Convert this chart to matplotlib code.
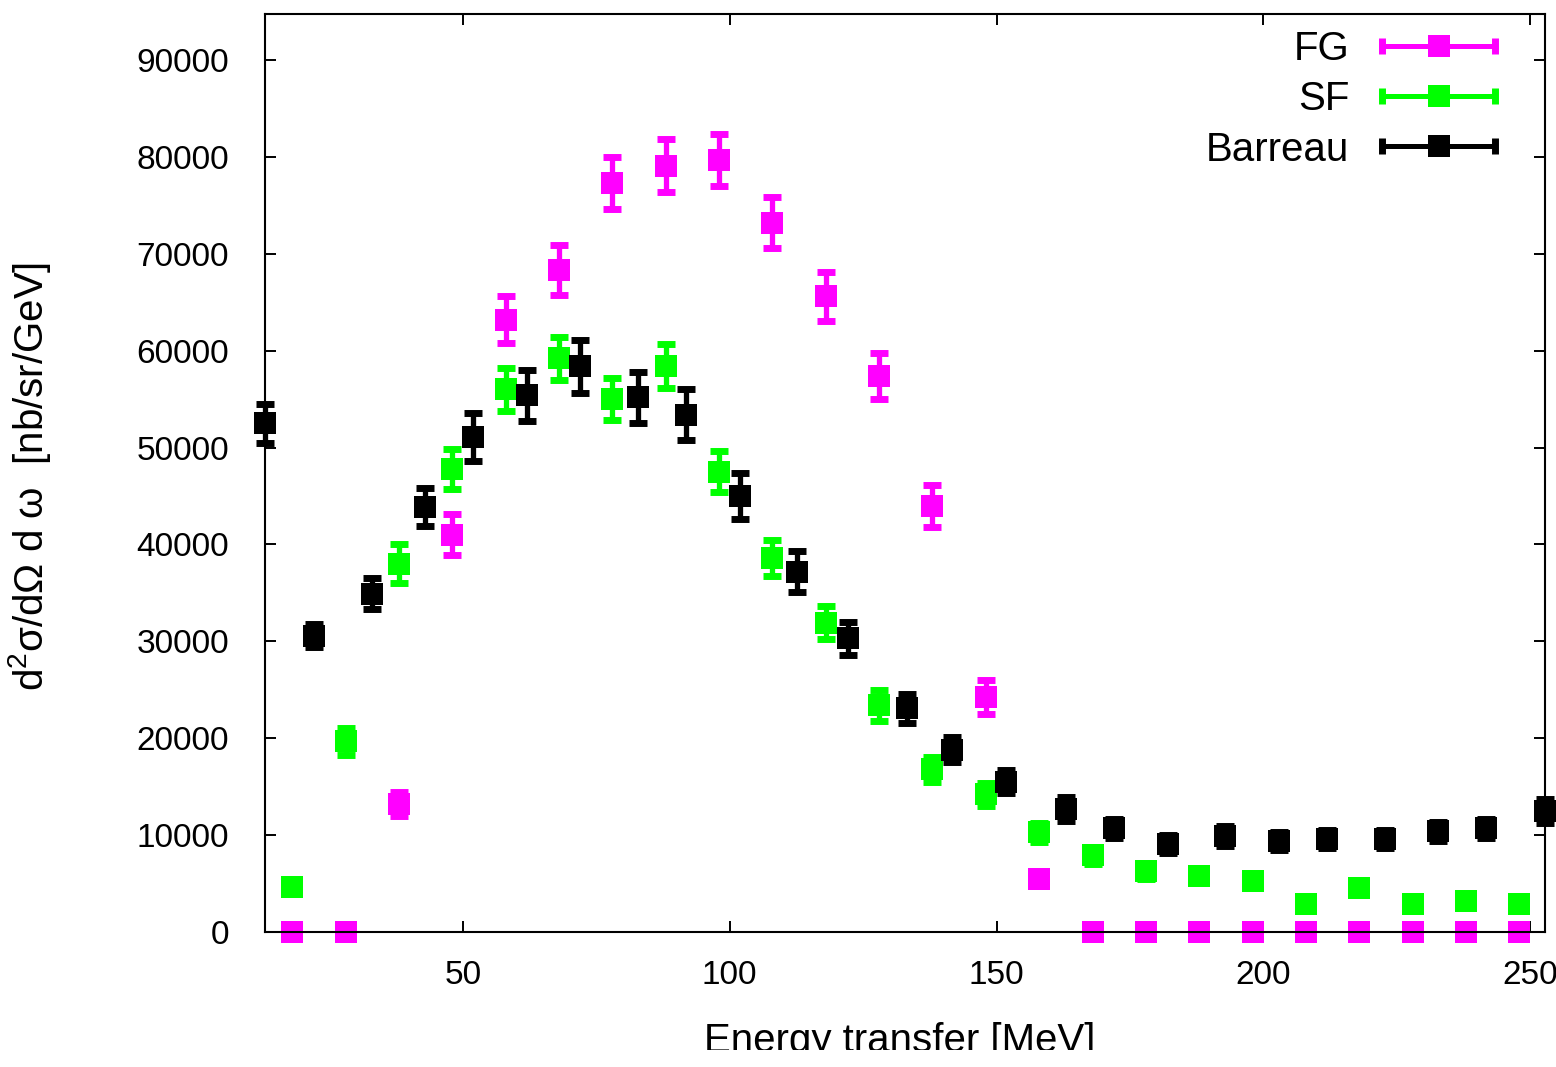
import numpy as np
import matplotlib
matplotlib.use("Agg")
import matplotlib.pyplot as plt
from matplotlib.lines import Line2D
from matplotlib.patches import Rectangle
from matplotlib.legend_handler import HandlerBase

plt.rcParams['font.family'] = ['Liberation Sans', 'DejaVu Sans']
plt.rcParams['mathtext.fontset'] = 'custom'
plt.rcParams['mathtext.rm'] = 'Liberation Sans'

# energy grid of the two models
model_x = [18, 28, 38, 48, 58, 68, 78, 88, 98, 108, 118, 128,
           138, 148, 158, 168, 178, 188, 198, 208, 218, 228, 238, 248]

# Fermi gas
fg_y = [0, 0, 13200, 41000, 63200, 68300, 77300, 79100, 79700, 73200, 65600, 57400,
        44000, 24300, 5500, 0, 0, 0, 0, 0, 0, 0, 0, 0]
fg_err = [0, 0, 1200, 2100, 2450, 2600, 2700, 2700, 2700, 2650, 2500, 2350,
          2150, 1750, 800, 0, 0, 0, 0, 0, 0, 0, 0, 0]

# spectral function
sf_y = [4600, 19700, 38000, 47800, 56000, 59200, 55000, 58400, 47500, 38600, 31900, 23400,
        16800, 14200, 10300, 7900, 6300, 5800, 5300, 2900, 4500, 2900, 3200, 2900]
sf_err = [600, 1400, 2000, 2050, 2250, 2250, 2200, 2250, 2100, 1850, 1700, 1600,
          1300, 1200, 1000, 900, 800, 750, 700, 500, 650, 500, 550, 500]

# Barreau data
bar_x = [12.9, 22.0, 32.9, 42.9, 51.9, 62.0, 71.9, 82.8, 91.8, 101.9, 112.7, 122.2,
         133.3, 141.7, 151.7, 163.1, 172.1, 182.1, 192.9, 202.9, 211.9, 222.8, 232.8, 241.7, 252.8]
bar_y = [52500, 30600, 34900, 43900, 51100, 55400, 58400, 55200, 53400, 45000, 37200, 30300,
         23100, 18800, 15500, 12700, 10700, 9100, 9900, 9400, 9600, 9600, 10400, 10700, 12500]
bar_err = [2000, 1200, 1600, 1950, 2500, 2650, 2750, 2650, 2650, 2350, 2150, 1700,
           1500, 1300, 1200, 1250, 1000, 900, 1000, 950, 950, 950, 1000, 1000, 1200]


class HandlerXErr(HandlerBase):
    # gnuplot style key: horizontal bar with caps and a square in the middle
    def create_artists(self, legend, orig_handle, xdescent, ydescent,
                       width, height, fontsize, trans):
        c = orig_handle.get_color()
        y = height / 2 - ydescent
        x0, x1 = -xdescent + 2, width - xdescent - 2
        bar = Line2D([x0, x1], [y, y], color=c, lw=3.6)
        caps = Line2D([x0, x1], [y, y], ls='none', marker='|', markersize=12, mew=5, color=c)
        sq = Line2D([(x0 + x1) / 2], [y], ls='none', marker='s', markersize=15.8, mew=0, color=c)
        for a in (bar, caps, sq):
            a.set_transform(trans)
        return [bar, caps, sq]


fig = plt.figure(figsize=(15.56, 10.67), dpi=100)
ax = fig.add_axes([265 / 1556, 1 - 932 / 1067, 1280 / 1556, 918 / 1067])

style = dict(fmt='s', markersize=15.8, elinewidth=3.8, capsize=6.5, capthick=5, clip_on=False)
series = [(model_x, fg_y, fg_err, '#ff00ff', 'FG'),
          (model_x, sf_y, sf_err, '#00ff00', 'SF'),
          (bar_x, bar_y, bar_err, 'black', 'Barreau')]
for x, y, e, c, lab in series:
    cont = ax.errorbar(x, y, yerr=e, color=c, **style)
    cont[0].set_markeredgewidth(0)

ax.set_xlim(bar_x[0], bar_x[-1])
ax.set_ylim(0, 94750)
ax.set_xticks([50, 100, 150, 200, 250])
ax.set_yticks(np.arange(0, 90001, 10000))
ax.tick_params(direction='in', top=True, right=True, length=8, width=1.4, labelsize=24)
ax.tick_params(axis='x', pad=20)
ax.tick_params(axis='y', pad=26)
for s in ax.spines.values():
    s.set_linewidth(1.5)

ax.set_xlabel('Energy transfer [MeV]', fontsize=29)
ax.xaxis.set_label_coords(0.496, -0.098)
ax.set_ylabel(r'd$^{2}$σ/dΩ d ω  [nb/sr/GeV]', fontsize=29)
ax.yaxis.set_label_coords(-0.166, 0.496)

handles = [Line2D([], [], color=c) for _, _, _, c, _ in series]
labels = [s[4] for s in series]
ax.legend(handles, labels, handler_map={Line2D: HandlerXErr()}, loc='upper right',
          bbox_to_anchor=(0.963, 0.983), frameon=False, markerfirst=False,
          fontsize=29, handlelength=2.93, handletextpad=0.75, labelspacing=0.31,
          borderpad=0, borderaxespad=0)

# the bottom of the original picture is cut off
fig.patches.append(Rectangle((0, 0), 1, 17 / 1067, transform=fig.transFigure,
                             facecolor='white', edgecolor='none', zorder=10))

fig.savefig('out.png', dpi=100)
